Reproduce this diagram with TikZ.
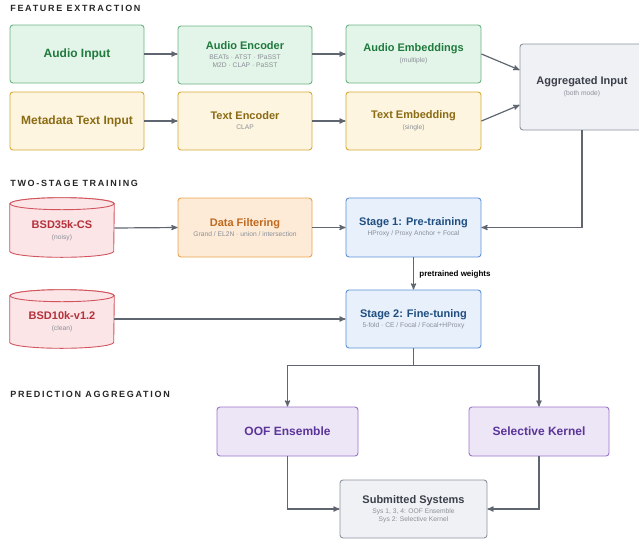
\documentclass[tikz,border=0pt]{standalone}
\usepackage{fontspec}
\setmainfont{Liberation Sans}
\usetikzlibrary{arrows,calc,positioning,backgrounds}
\definecolor{grnfill}{HTML}{E3F4E8}
\definecolor{grndraw}{HTML}{6DB282}
\definecolor{grntext}{HTML}{1F7A3D}
\definecolor{ylwfill}{HTML}{FDF5E0}
\definecolor{ylwdraw}{HTML}{D9AA35}
\definecolor{ylwtext}{HTML}{8A6A12}
\definecolor{grayfill}{HTML}{F0F1F5}
\definecolor{graydraw}{HTML}{8C939F}
\definecolor{graytext}{HTML}{3A3F4A}
\definecolor{redfill}{HTML}{FBE5E7}
\definecolor{reddraw}{HTML}{D2545D}
\definecolor{redtext}{HTML}{B5303A}
\definecolor{orgfill}{HTML}{FDEBD7}
\definecolor{orgdraw}{HTML}{EBA34C}
\definecolor{orgtext}{HTML}{C0691F}
\definecolor{bluefill}{HTML}{E7F0FB}
\definecolor{bluedraw}{HTML}{5C90D7}
\definecolor{bluetext}{HTML}{1F4E80}
\definecolor{purfill}{HTML}{EDE6F6}
\definecolor{purdraw}{HTML}{9B73C9}
\definecolor{purtext}{HTML}{5B359A}
\definecolor{subgray}{HTML}{8A8F98}
\definecolor{linkgray}{HTML}{5F6670}
\newcommand{\subtxt}[1]{{\fontsize{6.7}{8}\selectfont\mdseries\color{subgray}#1}}

\begin{document}
\begin{tikzpicture}[x=1pt,y=-1pt,>=stealth',semithick]
  \tikzstyle{box}=[rectangle,rounded corners=3pt,line width=0.9pt,align=center,
                   minimum width=134pt,minimum height=58pt,inner sep=2pt,
                   font=\fontsize{11}{9}\selectfont\bfseries]
  \tikzstyle{big}=[font=\fontsize{12}{9}\selectfont\bfseries]
  \tikzstyle{green box}=[box,fill=grnfill,draw=grndraw,text=grntext]
  \tikzstyle{yellow box}=[box,fill=ylwfill,draw=ylwdraw,text=ylwtext]
  \tikzstyle{gray box}=[box,fill=grayfill,draw=graydraw,text=graytext]
  \tikzstyle{orange box}=[box,fill=orgfill,draw=orgdraw,text=orgtext]
  \tikzstyle{blue box}=[box,fill=bluefill,draw=bluedraw,text=bluetext,minimum width=135pt,minimum height=59pt]
  \tikzstyle{purple box}=[box,big,fill=purfill,draw=purdraw,text=purtext,minimum width=141pt,minimum height=49pt]
  \tikzstyle{db}=[rectangle,align=center,minimum width=104pt,minimum height=53pt,inner sep=0pt,
                  text=redtext,font=\fontsize{11}{9}\selectfont\bfseries]
  \tikzstyle{db line}=[fill=redfill,draw=reddraw,line width=0.9pt]
  \tikzstyle{link}=[->,draw=linkgray,line width=1.2pt]
  \tikzstyle{section}=[anchor=west,inner sep=0pt,text=black!85,
                       font=\fontsize{9}{11}\selectfont\bfseries\addfontfeatures{LetterSpace=19}]

  \useasboundingbox (0,0) rectangle (639,539);

  % feature extraction
  \node[section] (secfeat) at (10,8) {FEATURE EXTRACTION};
  \node[green box,big] (ain) at (77,54) {Audio Input};
  \node[green box] (aenc) at (245,55) {Audio Encoder\\[1pt]\subtxt{BEATs · ATST · fPaSST}\\[-1pt]\subtxt{M2D · CLAP · PaSST}};
  \node[green box,minimum width=135pt] (aemb) at (413.5,54) {Audio Embeddings\\[2pt]\subtxt{(multiple)}};
  \node[yellow box,big] (meta) at (77,121) {Metadata Text Input};
  \node[yellow box] (tenc) at (245,121) {Text Encoder\\[1pt]\subtxt{CLAP}};
  \node[yellow box,minimum width=135pt] (temb) at (413.5,121) {Text Embedding\\[2pt]\subtxt{(single)}};
  \node[gray box,minimum width=124pt,minimum height=86pt] (agg) at (582,87) {Aggregated Input\\[2pt]\subtxt{(both mode)}};

  % two-stage training
  \node[section] (sectrain) at (10,183) {TWO-STAGE TRAINING};
  \node[db] (bsd35) at (62,230.5) {BSD35k-CS\\[2pt]\subtxt{(noisy)}};
  \node[orange box,minimum height=59pt] (filt) at (245,227.5) {Data Filtering\\[1pt]\subtxt{Grand / EL2N · union / intersection}};
  \node[blue box] (st1) at (413.5,227.5) {Stage 1: Pre-training\\[1pt]\subtxt{HProxy / Proxy Anchor + Focal}};
  \node[db,minimum height=52pt] (bsd10) at (62,322) {BSD10k-v1.2\\[2pt]\subtxt{(clean)}};
  \node[blue box,minimum height=58pt] (st2) at (413.5,319) {Stage 2: Fine-tuning\\[1pt]\subtxt{5-fold · CE / Focal / Focal+HProxy}};

  % prediction aggregation
  \node[section] (secpred) at (10,394) {PREDICTION AGGREGATION};
  \node[purple box] (oof) at (287.5,431.5) {OOF Ensemble};
  \node[purple box,minimum width=140pt] (sk) at (539,431.5) {Selective Kernel};
  \node[gray box,minimum width=147pt] (subm) at (413.5,509) {Submitted Systems\\[1pt]\subtxt{Sys 1, 3, 4: OOF Ensemble}\\[-1pt]\subtxt{Sys 2: Selective Kernel}};

  % database cylinders
  \begin{pgfonlayer}{background}
    \foreach \c in {bsd35,bsd10} {
      \filldraw[db line] (\c.north west) -- ($(\c.south west)+(0,-6)$)
        arc[start angle=180,end angle=0,x radius=52,y radius=6]
        -- (\c.north east)
        arc[start angle=0,end angle=-180,x radius=52,y radius=6] -- cycle;
      \draw[db line] (\c.north) ellipse[x radius=52,y radius=6];
    }
  \end{pgfonlayer}

  % connectors
  \draw[link] (ain) -- (aenc.west |- ain);
  \draw[link] (aenc.east |- aemb) -- (aemb);
  \draw[link] (meta) -- (tenc);
  \draw[link] (tenc) -- (temb);
  \draw[link] (aemb.east) -- ($(agg.west)+(0,-17)$);
  \draw[link] (temb.east) -- ($(agg.west)+(0,18)$);
  \draw[link] (agg.south) |- (st1.east);
  \draw[link] ($(bsd35.east)+(0,-2.5)$) -- (filt.west);
  \draw[link] (filt) -- (st1);
  \draw[link] ($(bsd10.east)+(0,-3)$) -- (st2.west);
  \draw[link] (st1) -- node[right,text=black,font=\fontsize{8}{9}\selectfont\bfseries,xshift=2pt,yshift=-1pt] {pretrained weights} (st2);
  \draw[draw=linkgray,line width=1.2pt] (st2.south) -- ++(0,17) coordinate (split);
  \draw[link] (split) -| (oof.north);
  \draw[link] (split) -| (sk.north);
  \draw[link] (oof.south) |- (subm.west);
  \draw[link] (sk.south) |- (subm.east);

\end{tikzpicture}
\end{document}
